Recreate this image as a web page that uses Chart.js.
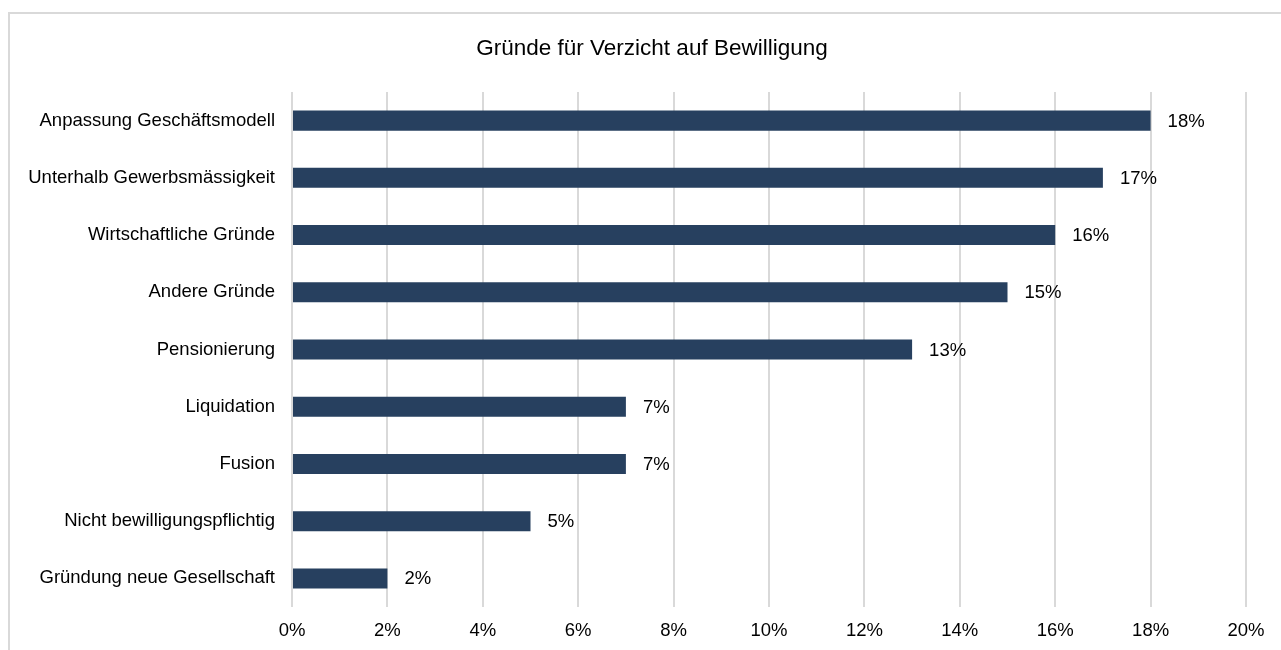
<!DOCTYPE html>
<html>
<head>
<meta charset="utf-8">
<script src="https://cdn.jsdelivr.net/npm/chart.js@4"></script>
<style>
  html, body { margin: 0; padding: 0; background: #fff; overflow: hidden; }
  #frame { position: absolute; left: 8px; top: 12px; width: 1400px; height: 800px; border: 2px solid #d9d9d9; box-sizing: border-box; }
  #wrap { position: absolute; left: 0; top: 0; width: 1281px; height: 650px; }
</style>
</head>
<body>
<div id="frame"></div>
<div id="wrap"><canvas id="chart"></canvas></div>
<script>
const categories = [
  'Anpassung Geschäftsmodell',
  'Unterhalb Gewerbsmässigkeit',
  'Wirtschaftliche Gründe',
  'Andere Gründe',
  'Pensionierung',
  'Liquidation',
  'Fusion',
  'Nicht bewilligungspflichtig',
  'Gründung neue Gesellschaft'
];
const shares = [18, 17, 16, 15, 13, 7, 7, 5, 2];
const xTicks = [0, 2, 4, 6, 8, 10, 12, 14, 16, 18, 20];

const FONT = '"Liberation Sans", Arial, sans-serif';

// value labels to the right of each bar
const barLabels = {
  id: 'barLabels',
  afterDatasetsDraw(chart) {
    const ctx = chart.ctx;
    const meta = chart.getDatasetMeta(0);
    ctx.save();
    ctx.font = '18.5px ' + FONT;
    ctx.fillStyle = '#000';
    ctx.textAlign = 'left';
    ctx.textBaseline = 'middle';
    meta.data.forEach((bar, i) => {
      ctx.fillText(shares[i] + '%', bar.x + 17, bar.y + 1);
    });
    ctx.restore();
  }
};

// the original title sits a bit right of the plot centre
const titleShift = {
  id: 'titleShift',
  afterLayout(chart) {
    if (chart.titleBlock) chart.titleBlock.left += 58;
  }
};

new Chart(document.getElementById('chart'), {
  type: 'bar',
  data: {
    labels: categories,
    datasets: [{
      data: shares,
      backgroundColor: '#27405f',
      borderWidth: 0,
      categoryPercentage: 1,
      barPercentage: 0.35
    }]
  },
  options: {
    indexAxis: 'y',
    responsive: true,
    maintainAspectRatio: false,
    animation: false,
    layout: { padding: { left: 0, right: 35, top: 0, bottom: 0 } },
    plugins: {
      legend: { display: false },
      tooltip: { enabled: false },
      title: {
        display: true,
        text: 'Gründe für Verzicht auf Bewilligung',
        color: '#000',
        font: { family: FONT, size: 22.5, weight: 'normal' },
        padding: { top: 35, bottom: 30 }
      }
    },
    scales: {
      x: {
        min: 0,
        max: 20,
        afterBuildTicks: axis => { axis.ticks = xTicks.map(v => ({ value: v })); },
        afterFit: axis => { axis.height = 43; },
        grid: { color: '#d9d9d9', lineWidth: 2, drawTicks: false },
        border: { display: false },
        ticks: {
          padding: 13,
          color: '#000',
          font: { family: FONT, size: 18.5 },
          callback: v => v + '%'
        }
      },
      y: {
        afterFit: axis => { axis.width = 292; },
        grid: { display: false, drawTicks: false },
        border: { display: false },
        ticks: {
          padding: 17,
          color: '#000',
          font: { family: FONT, size: 18.5 }
        }
      }
    }
  },
  plugins: [barLabels, titleShift]
});
</script>
</body>
</html>
